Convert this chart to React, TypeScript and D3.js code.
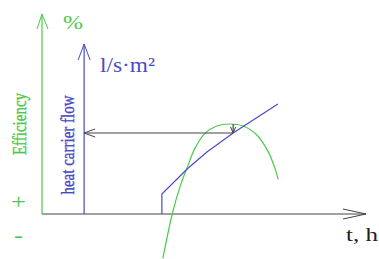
import React from "react";
import * as d3 from "d3";

// time (arbitrary units) and values
const flowTime = [37, 37, 44.8, 50.9, 59, 72.8];
const flowValue = [0, 10, 22.5, 31, 40.5, 55];

const effTime = [37.3, 40.2, 42.6, 44.7, 47.2, 50.3, 53.9, 58.0, 62.1, 66.3, 69.8, 71.9, 72.9];
const effValue = [-22.2, 0, 13.7, 22.8, 32.8, 40.3, 44, 45, 44, 39.5, 31.2, 22.8, 17.3];

// operating point marked by the arrows
const markTime = 59;
const markEff = 45;
const markFlow = 40.5;

const flowAxisTime = 13;

const GREEN = "#4cc94c";
const BLUE = "#4a4ac8";
const DARK = "#444";

const width = 379;
const height = 259;

const App: React.FC = () => {
  const x = d3.scaleLinear().domain([0, 100]).range([42, 366]);
  const y = d3.scaleLinear().domain([0, 100]).range([214, 14]);

  const flowLine = d3
    .line<number>()
    .x((_, i) => x(flowTime[i]))
    .y((d) => y(d));

  const effLine = d3
    .line<number>()
    .x((_, i) => x(effTime[i]))
    .y((d) => y(d))
    .curve(d3.curveCatmullRom.alpha(0.5));

  const x0 = x(0);
  const y0 = y(0);
  const xEnd = x(100);
  const yTop = y(100);
  const xFlow = x(flowAxisTime);
  const yFlowTop = y(85);
  const xm = x(markTime);

  const font = "'Liberation Serif', 'DejaVu Serif', serif";

  return (
    <svg width={width} height={height} style={{ position: "absolute", left: 0, top: 0 }}>
      <rect width={width} height={height} fill="#fff" />
      {/* time axis */}
      <line x1={x0} y1={y0} x2={xEnd} y2={y0} stroke={DARK} strokeWidth={1.2} />
      <polyline
        points={`${xEnd - 23},${y0 - 5} ${xEnd},${y0} ${xEnd - 23},${y0 + 5}`}
        fill="none"
        stroke={DARK}
        strokeWidth={1}
      />
      <text x={346} y={241} fontFamily={font} fontSize={19} fill="#222" textLength={32} lengthAdjust="spacingAndGlyphs">
        t, h
      </text>

      {/* efficiency axis */}
      <line x1={x0} y1={y0} x2={x0} y2={yTop} stroke={GREEN} strokeWidth={1.2} />
      <polyline
        points={`${x0 - 5},${yTop + 15} ${x0},${yTop} ${x0 + 6},${yTop + 15}`}
        fill="none"
        stroke={GREEN}
        strokeWidth={1}
      />
      <text x={63} y={29} fontFamily={font} fontSize={18} fill={GREEN} textLength={20} lengthAdjust="spacingAndGlyphs">
        %
      </text>
      <text
        transform="translate(26,124) rotate(-90) scale(1,1.3)"
        textAnchor="middle"
        fontFamily={font}
        fontSize={15}
        fill={GREEN}
        stroke={GREEN}
        strokeWidth={0.3}
      >
        Efficiency
      </text>
      <text x={11} y={209} fontFamily={font} fontSize={22} fill={GREEN} textLength={15} lengthAdjust="spacingAndGlyphs">
        +
      </text>
      <text x={14} y={242} fontFamily={font} fontSize={20} fill={GREEN} textLength={9} lengthAdjust="spacingAndGlyphs">
        -
      </text>

      {/* flow axis */}
      <line x1={xFlow} y1={y0} x2={xFlow} y2={yFlowTop} stroke={BLUE} strokeWidth={1.2} />
      <polyline
        points={`${xFlow - 6},${yFlowTop + 16} ${xFlow},${yFlowTop} ${xFlow + 6},${yFlowTop + 16}`}
        fill="none"
        stroke={BLUE}
        strokeWidth={1}
      />
      <text x={100} y={72} fontFamily={font} fontSize={21} fill={BLUE} textLength={55} lengthAdjust="spacingAndGlyphs">
        l/s·m²
      </text>
      <text
        transform="translate(74,145) rotate(-90) scale(1,1.25)"
        textAnchor="middle"
        fontFamily={font}
        fontSize={15}
        fill={BLUE}
        stroke={BLUE}
        strokeWidth={0.3}
      >
        heat carrier flow
      </text>

      {/* curves */}
      <path d={effLine(effValue) ?? ""} fill="none" stroke={GREEN} strokeWidth={1.2} />
      <path d={flowLine(flowValue) ?? ""} fill="none" stroke={BLUE} strokeWidth={1.2} />

      {/* arrows */}
      <line x1={xFlow} y1={y(markFlow)} x2={xm} y2={y(markFlow)} stroke={DARK} strokeWidth={1.2} />
      <polyline
        points={`${xFlow + 11},${y(markFlow) - 4} ${xFlow},${y(markFlow)} ${xFlow + 11},${y(markFlow) + 4}`}
        fill="none"
        stroke={DARK}
        strokeWidth={1}
      />
      <line x1={xm} y1={y(markEff)} x2={xm} y2={y(markFlow)} stroke={DARK} strokeWidth={1.2} />
      <polyline
        points={`${xm - 2.5},${y(markFlow) - 6} ${xm},${y(markFlow)} ${xm + 2.5},${y(markFlow) - 6}`}
        fill="none"
        stroke={DARK}
        strokeWidth={1}
      />
    </svg>
  );
};

export default App;
